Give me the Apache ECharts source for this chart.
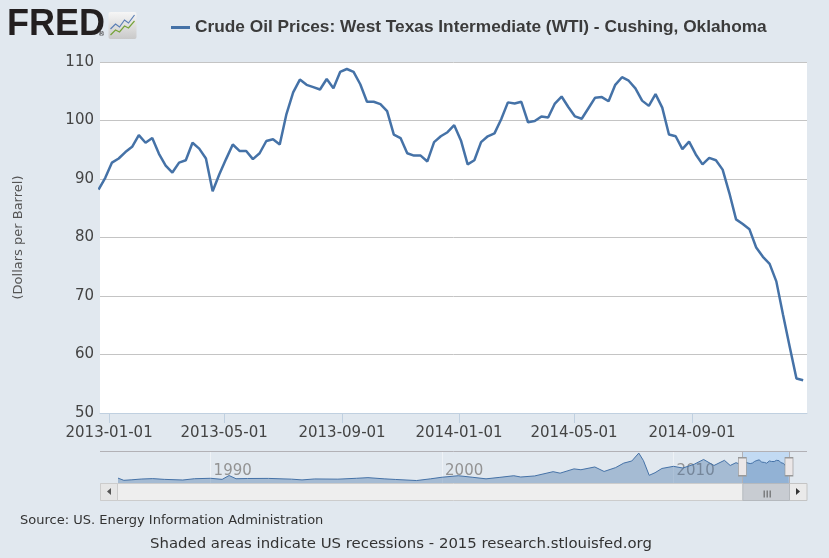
<!DOCTYPE html>
<html>
<head>
<meta charset="utf-8">
<title>Crude Oil Prices: West Texas Intermediate (WTI) - Cushing, Oklahoma</title>
<script src="https://cdn.jsdelivr.net/npm/echarts@6/dist/echarts.min.js"></script>
<style>
html, body { margin: 0; padding: 0; background: #e1e8ef; }
#chart { width: 829px; height: 558px; }
</style>
</head>
<body>
<div id="chart"></div>
<script>
// weekly WTI spot price, week ending Friday, starting 2012-12-21
var seriesName = 'Crude Oil Prices: West Texas Intermediate (WTI) - Cushing, Oklahoma';
var firstWeek = '2012-12-21';
var wtiPrices = [
    88.2, 90.2, 92.8, 93.5, 94.6, 95.5, 97.5, 96.2, 97.0, 94.3,
    92.3, 91.1, 92.8, 93.2, 96.2, 95.2, 93.5, 87.9, 90.8, 93.4,
    95.9, 94.8, 94.8, 93.4, 94.4, 96.5, 96.8, 95.9, 101.1, 104.8,
    107.0, 106.1, 105.7, 105.3, 107.1, 105.5, 108.3, 108.8, 108.3, 106.2,
    103.2, 103.2, 102.8, 101.6, 97.6, 97.0, 94.4, 94.0, 94.0, 93.0,
    96.3, 97.3, 98.0, 99.2, 96.6, 92.5, 93.2, 96.3, 97.3, 97.8,
    100.2, 103.1, 102.9, 103.2, 99.7, 99.9, 100.7, 100.5, 102.9, 104.1,
    102.3, 100.7, 100.3, 102.1, 103.9, 104.0, 103.3, 106.1, 107.4, 106.8,
    105.5, 103.4, 102.5, 104.5, 102.2, 97.6, 97.3, 95.1, 96.4, 94.2,
    92.5, 93.6, 93.2, 91.6, 87.6, 83.1, 82.3, 81.4, 78.3, 76.7,
    75.5, 72.5, 66.8, 61.3, 55.9, 55.6
];
var xRange = ['2012-12-22T12:00:00', '2014-12-30'];
var tickDates = ['2013-01-01', '2013-05-01', '2013-09-01', '2014-01-01', '2014-05-01', '2014-09-01'];
var yTicks = [50, 60, 70, 80, 90, 100, 110];

// navigator: longer history (decimal year, price)
var navYears = [
    1986.0, 1986.25, 1986.6, 1987.0, 1987.5, 1988.0, 1988.8, 1989.3, 1990.0, 1990.5,
    1990.8, 1991.1, 1991.6, 1992.5, 1993.5, 1993.95, 1994.5, 1995.5, 1996.3, 1996.8,
    1997.5, 1998.0, 1998.9, 1999.5, 2000.0, 2000.7, 2001.3, 2001.9, 2002.5, 2003.1,
    2003.4, 2004.0, 2004.8, 2005.1, 2005.7, 2006.0, 2006.6, 2007.0, 2007.5, 2007.85,
    2008.2, 2008.5, 2008.7, 2008.95, 2009.2, 2009.5, 2010.0, 2010.4, 2010.9, 2011.3,
    2011.75, 2012.2, 2012.45, 2012.7, 2012.9
];
var navPrices = [
    22.9, 12.5, 15.0, 18.5, 20.5, 17.0, 14.0, 20.0, 22.0, 17.0,
    35.0, 20.0, 21.0, 21.5, 18.0, 14.5, 19.0, 18.0, 22.0, 25.0,
    19.5, 16.5, 11.5, 19.5, 27.0, 34.0, 27.0, 19.5, 26.5, 34.0,
    28.0, 33.0, 53.0, 46.0, 66.0, 62.0, 75.0, 54.0, 72.0, 93.0,
    103.0, 140.0, 105.0, 36.0, 48.0, 68.0, 78.0, 70.0, 88.0, 110.0,
    82.0, 106.0, 82.0, 95.0, 87.0
];
var navTicks = [1990, 2000, 2010];
var navRange = [1986, 2014.99];

function weekDates(start, n) {
    var t0 = Date.parse(start + 'T00:00:00Z');
    var out = [];
    for (var i = 0; i < n; i++) {
        out.push(new Date(t0 + i * 7 * 86400000).toISOString().slice(0, 10));
    }
    return out;
}

// everything on the date axis is kept as UTC milliseconds
function toTime(s) {
    var iso = s.length > 10 ? s + 'Z' : s + 'T00:00:00Z';
    return Date.parse(iso);
}

function toYear(s) {
    var d = toTime(s);
    var y = new Date(d).getUTCFullYear();
    var a = Date.UTC(y, 0, 1), b = Date.UTC(y + 1, 0, 1);
    return y + (d - a) / (b - a);
}

function fmtDate(v) {
    return new Date(v).toISOString().slice(0, 10);
}

function drawWTI(div_id) {
    var myChart = echarts.init(document.getElementById(div_id));
    var dates = weekDates(firstWeek, wtiPrices.length);
    var mainData = dates.map(function (d, i) { return [toTime(d), wtiPrices[i]]; });

    // navigator strip = history + the same weekly values
    var navData = navYears.map(function (y, i) { return [y, navPrices[i]]; });
    dates.forEach(function (d, i) { navData.push([toYear(d), wtiPrices[i]]); });
    var selStart = toYear(xRange[0]);
    var selEnd = Math.min(toYear(xRange[1]), navRange[1]);
    var ticks = tickDates.map(toTime);

    var font = '"DejaVu Sans", Verdana, sans-serif';

    myChart.setOption({
        backgroundColor: '#e1e8ef',
        animation: false,
        legend: {
            data: [{ name: seriesName, icon: 'rect' }],
            left: 166,
            top: 14,
            itemWidth: 19,
            itemHeight: 3,
            textStyle: {
                fontFamily: '"Liberation Sans", Arial, sans-serif',
                fontSize: 17.3,
                fontWeight: 'bold',
                color: '#3b3b3b'
            }
        },
        grid: [
            { left: 100, right: 22, top: 62, bottom: 145, show: true, backgroundColor: '#ffffff', borderWidth: 0 },
            { left: 118, right: 40, top: 452, height: 31 }
        ],
        xAxis: [
            {
                type: 'value',
                gridIndex: 0,
                min: toTime(xRange[0]),
                max: toTime(xRange[1]),
                axisLine: { lineStyle: { color: '#c0d0e0', width: 1 } },
                axisTick: {
                    show: true,
                    length: 10,
                    customValues: ticks,
                    lineStyle: { color: '#c0d0e0' }
                },
                axisLabel: {
                    customValues: ticks,
                    formatter: fmtDate,
                    color: '#444',
                    fontSize: 15,
                    fontFamily: font,
                    margin: 13
                },
                splitLine: { show: false }
            },
            {
                type: 'value',
                gridIndex: 1,
                min: navRange[0],
                max: navRange[1],
                axisLine: { show: false },
                axisTick: { show: false, customValues: navTicks },
                axisLabel: {
                    customValues: navTicks,
                    formatter: function (v) { return String(v); },
                    inside: true,
                    align: 'left',
                    padding: [0, 0, 0, 3],
                    margin: 4,
                    color: '#939393',
                    fontSize: 15,
                    fontFamily: font
                },
                splitLine: { show: true, lineStyle: { color: '#eef2f6', width: 1 } }
            }
        ],
        yAxis: [
            {
                type: 'value',
                gridIndex: 0,
                min: yTicks[0],
                max: yTicks[yTicks.length - 1],
                interval: yTicks[1] - yTicks[0],
                name: '(Dollars per Barrel)',
                nameLocation: 'middle',
                nameRotate: 90,
                nameGap: 75,
                nameTextStyle: { color: '#555', fontSize: 13, fontFamily: font },
                axisLine: { show: false },
                axisTick: { show: false },
                axisLabel: { color: '#444', fontSize: 15, fontFamily: font, margin: 6 },
                splitLine: { lineStyle: { color: '#c4c4c4', width: 1 } }
            },
            {
                type: 'value',
                gridIndex: 1,
                min: 0,
                max: 145,
                show: false
            }
        ],
        series: [
            {
                name: seriesName,
                type: 'line',
                xAxisIndex: 0,
                yAxisIndex: 0,
                symbol: 'none',
                clip: true,
                lineStyle: { color: '#4572a7', width: 2.5 },
                itemStyle: { color: '#4572a7' },
                data: mainData
            },
            {
                name: 'navigator',
                type: 'line',
                xAxisIndex: 1,
                yAxisIndex: 1,
                symbol: 'none',
                silent: true,
                lineStyle: { color: '#4572a7', width: 1 },
                areaStyle: { color: 'rgba(69,114,167,0.55)' },
                data: navData,
                markArea: {
                    silent: true,
                    itemStyle: { color: 'rgba(170,205,245,0.55)' },
                    data: [[{ xAxis: selStart }, { xAxis: selEnd }]]
                },
                markLine: {
                    silent: true,
                    symbol: 'none',
                    label: { show: false },
                    lineStyle: { color: '#b2b1b6', width: 1, type: 'solid' },
                    data: [{ xAxis: selStart }, { xAxis: selEnd }]
                },
                markPoint: {
                    silent: true,
                    label: { show: false },
                    symbol: 'rect',
                    symbolSize: [8, 18],
                    itemStyle: { color: '#ebe7e8', borderColor: '#999999', borderWidth: 1 },
                    data: [
                        { coord: [selStart, 76] },
                        { coord: [selEnd, 76] }
                    ]
                }
            }
        ]
    });

    // scrollbar under the navigator, thumb follows the selected window
    var x0 = myChart.convertToPixel({ xAxisIndex: 1 }, selStart);
    var x1 = myChart.convertToPixel({ xAxisIndex: 1 }, selEnd);
    var sbTop = 483, sbH = 17;

    myChart.setOption({
        graphic: [
            // FRED logo
            {
                type: 'text', left: 7, top: 7,
                style: { text: 'FRED', font: 'bold 36px "Liberation Sans", Arial, sans-serif', fill: '#231f20' }
            },
            {
                type: 'text', left: 98, top: 31,
                style: { text: '®', font: '7px "DejaVu Sans", sans-serif', fill: '#231f20' }
            },
            {
                type: 'group', left: 108, top: 12,
                children: [
                    {
                        type: 'rect', shape: { x: 0, y: 0, width: 28, height: 27, r: 2 },
                        style: {
                            fill: new echarts.graphic.LinearGradient(0, 0, 0, 1, [
                                { offset: 0, color: '#f6f6f6' }, { offset: 1, color: '#c9c9c9' }
                            ])
                        }
                    },
                    {
                        type: 'polyline',
                        shape: { points: [[2, 17], [7, 12], [11, 15], [16, 8], [20, 11], [26, 3]] },
                        style: { stroke: '#5b7fb5', lineWidth: 1.2, fill: null }
                    },
                    {
                        type: 'polyline',
                        shape: { points: [[2, 23], [7, 18], [11, 20], [16, 14], [20, 16], [26, 9]] },
                        style: { stroke: '#76a33a', lineWidth: 1.2, fill: null }
                    }
                ]
            },
            // navigator frame line
            {
                type: 'line', shape: { x1: 100, y1: 451.5, x2: 807, y2: 451.5 },
                style: { stroke: '#b2b1b6', lineWidth: 1 }, z: 10
            },
            // scrollbar
            {
                type: 'rect', shape: { x: 100.5, y: sbTop + 0.5, width: 706, height: sbH },
                style: { fill: '#eeeeee', stroke: '#cccccc', lineWidth: 1 }
            },
            {
                type: 'rect', shape: { x: 100.5, y: sbTop + 0.5, width: 17, height: sbH },
                style: { fill: '#e6e6e6', stroke: '#cccccc', lineWidth: 1 }
            },
            {
                type: 'polygon', shape: { points: [[111, sbTop + 5], [111, sbTop + 12], [107, sbTop + 8.5]] },
                style: { fill: '#555555' }
            },
            {
                type: 'rect', shape: { x: x1 + 0.5, y: sbTop + 0.5, width: 806.5 - x1, height: sbH },
                style: { fill: '#eaeaea', stroke: '#c4c4c4', lineWidth: 1 }
            },
            {
                type: 'polygon', shape: { points: [[(x1 + 807) / 2 - 2, sbTop + 5], [(x1 + 807) / 2 - 2, sbTop + 12], [(x1 + 807) / 2 + 2, sbTop + 8.5]] },
                style: { fill: '#333333' }
            },
            {
                type: 'rect', shape: { x: x0 + 0.5, y: sbTop + 0.5, width: x1 - x0, height: sbH },
                style: { fill: '#c8ccd2', stroke: '#b5b9be', lineWidth: 1 }
            },
            {
                type: 'group', left: (x0 + x1) / 2 - 4, top: sbTop + 5,
                children: [
                    { type: 'line', shape: { x1: 0.5, y1: 0, x2: 0.5, y2: 7 }, style: { stroke: '#555', lineWidth: 1 } },
                    { type: 'line', shape: { x1: 3.5, y1: 0, x2: 3.5, y2: 7 }, style: { stroke: '#555', lineWidth: 1 } },
                    { type: 'line', shape: { x1: 6.5, y1: 0, x2: 6.5, y2: 7 }, style: { stroke: '#555', lineWidth: 1 } }
                ]
            },
            // footer texts
            {
                type: 'text', left: 20, top: 514,
                style: { text: 'Source: US. Energy Information Administration', font: '13px "DejaVu Sans", Verdana, sans-serif', fill: '#333333' }
            },
            {
                type: 'text', left: 150, top: 537,
                style: { text: 'Shaded areas indicate US recessions - 2015 research.stlouisfed.org', font: '14.9px "DejaVu Sans", Verdana, sans-serif', fill: '#333333' }
            }
        ]
    });
}

drawWTI('chart');
</script>
</body>
</html>
